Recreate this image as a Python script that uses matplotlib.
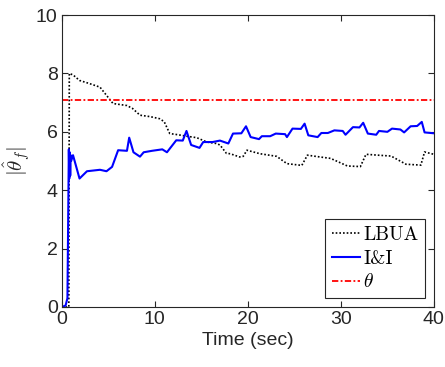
import numpy as np
import matplotlib
matplotlib.use('Agg')
import matplotlib.pyplot as plt

# Values
t_lbua = [0, 0.75, 0.8, 1.2, 1.9, 3.0, 4.1, 4.8, 5.5, 7.0, 7.6, 8.4, 9.5, 10.5, 11.0, 11.6,
          12.5, 13.4, 14.5, 15.6, 16.6, 17.0, 17.7, 18.1, 19.1, 19.5, 19.9, 21.3, 23.1, 24.2,
          25.8, 26.4, 27.5, 28.9, 30.7, 32.1, 32.7, 34.0, 35.4, 37.0, 38.6, 39.0, 40.0]
lbua = [0, 0, 8.0, 7.95, 7.76, 7.65, 7.53, 7.25, 6.97, 6.9, 6.8, 6.57, 6.52, 6.45, 6.35, 5.94,
        5.9, 5.85, 5.8, 5.65, 5.6, 5.55, 5.26, 5.25, 5.14, 5.16, 5.37, 5.25, 5.16, 4.91,
        4.85, 5.2, 5.15, 5.09, 4.83, 4.81, 5.23, 5.2, 5.17, 4.89, 4.86, 5.31, 5.23]

t_ii = [0, 0.4, 0.6, 0.75, 0.8, 0.85, 0.9, 0.95, 1.0, 1.2, 1.9, 2.7, 4.1, 4.8, 5.4, 6.05, 7.0,
        7.24, 7.7, 8.4, 8.8, 9.7, 10.8, 11.3, 12.3, 13.0, 13.4, 13.9, 14.8, 15.2, 16.2, 17.0,
        17.9, 18.4, 19.3, 19.8, 20.3, 21.2, 21.5, 22.4, 23.0, 24.0, 24.2, 24.8, 25.7, 26.1,
        26.5, 27.5, 27.9, 28.6, 29.3, 30.2, 30.5, 31.3, 32.0, 32.4, 32.9, 33.8, 34.1, 35.0,
        35.5, 36.4, 36.8, 37.5, 38.2, 38.7, 39.0, 40.0]
ii = [0, 0.05, 0.3, 5.4, 4.4, 5.3, 4.5, 5.2, 5.0, 5.2, 4.4, 4.65, 4.7, 4.65, 4.8, 5.37, 5.35,
      5.8, 5.3, 5.15, 5.3, 5.35, 5.4, 5.3, 5.71, 5.7, 6.03, 5.55, 5.45, 5.65, 5.65, 5.7,
      5.6, 5.94, 5.95, 6.19, 5.82, 5.75, 5.85, 5.85, 5.94, 5.92, 5.82, 6.11, 6.1, 6.28,
      5.88, 5.82, 5.96, 5.96, 6.05, 6.03, 5.9, 6.16, 6.15, 6.31, 5.94, 5.9, 6.03, 6.0,
      6.11, 6.08, 5.98, 6.19, 6.2, 6.34, 5.98, 5.95]

theta = 7.08

plt.rcParams['font.family'] = ['Liberation Sans', 'DejaVu Sans']
plt.rcParams['mathtext.fontset'] = 'cm'
gray = '#262626'

fig = plt.figure(figsize=(4.45, 3.67), dpi=100)
ax = fig.add_axes([0.139, 0.1635, 0.836, 0.7955])

ax.plot(t_lbua, lbua, color='k', linestyle=(0, (1, 1.2)), linewidth=1.2, label='LBUA')
ax.plot(t_ii, ii, color='#0000ff', linestyle='-', linewidth=1.5, label='I&I')
ax.axhline(theta, color='#ff0000', linestyle=(0, (3.5, 1.3, 1, 1.3)), linewidth=1.3,
           label=r'$\theta$')

ax.set_xlim(0, 40)
ax.set_ylim(0, 10)
ax.set_xticks([0, 10, 20, 30, 40])
ax.set_yticks([0, 2, 4, 6, 8, 10])
ax.tick_params(direction='in', top=True, right=True, length=4, width=0.8,
               labelsize=14, colors=gray, pad=3)
for s in ax.spines.values():
    s.set_color(gray)
    s.set_linewidth(0.8)

ax.set_xlabel('Time (sec)', fontsize=14, color=gray, labelpad=3)
ax.set_ylabel(r'$|\hat{\theta}_f|$', fontsize=15, color=gray, va='center', ha='center')
ax.yaxis.set_label_coords(-0.12, 0.5)

leg = ax.legend(loc='lower right', prop={'family': 'cmr10', 'size': 14}, fancybox=False,
                framealpha=1, edgecolor=gray, handlelength=1.45, handletextpad=0.15,
                borderpad=0.35, labelspacing=0.3, borderaxespad=0.45)
leg.get_frame().set_linewidth(0.8)

fig.savefig('out.png', dpi=100)
